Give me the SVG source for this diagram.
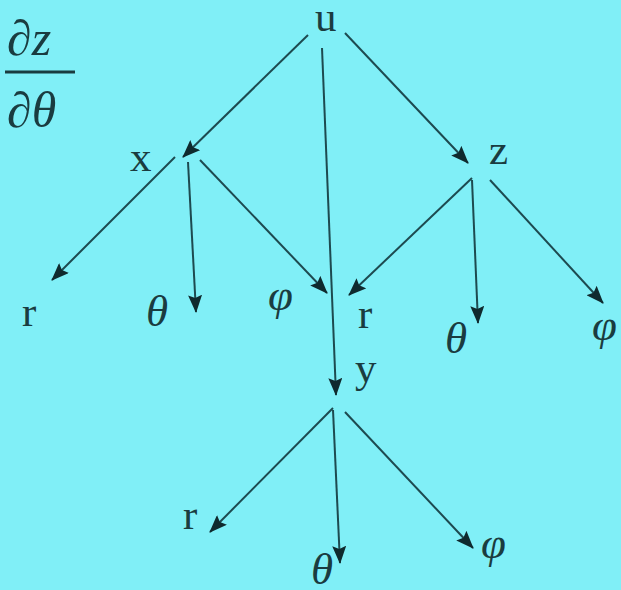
<svg xmlns="http://www.w3.org/2000/svg" width="621" height="590" viewBox="0 0 621 590">
<style>
.t{font-family:"Liberation Serif","Times New Roman",serif;font-size:43px;fill:#1a3c40}
.i{font-style:italic;font-size:45px}
.c line{stroke:#1d4a50;stroke-width:2;marker-end:url(#a)}
</style>
<defs>
<marker id="a" markerUnits="userSpaceOnUse" markerWidth="18" markerHeight="14" viewBox="0 0 18 14" refX="17" refY="7" orient="auto">
<path d="M0,0 L18,7 L0,14 L3,7 Z" fill="#0f2a2e"/>
</marker>
</defs>
<rect width="621" height="590" fill="#80eff7"/>
<g id="deriv">
<text class="t i" x="7" y="55" style="font-size:50px">∂z</text>
<line x1="5" y1="72" x2="75" y2="72" stroke="#1a3c40" stroke-width="3"/>
<text class="t i" x="7" y="127" style="font-size:50px">∂θ</text>
</g>
<g class="c" id="connectors">
<line x1="308" y1="35" x2="183" y2="157"/>
<line x1="345" y1="33" x2="468" y2="163"/>
<line x1="322" y1="48" x2="336" y2="395"/>
<line x1="175" y1="157" x2="52" y2="280"/>
<line x1="188" y1="162" x2="196" y2="312"/>
<line x1="200" y1="160" x2="327" y2="293"/>
<line x1="472" y1="178" x2="349" y2="295"/>
<line x1="472" y1="180" x2="478" y2="323"/>
<line x1="490" y1="180" x2="603" y2="303"/>
<line x1="333" y1="408" x2="210" y2="532"/>
<line x1="333" y1="410" x2="340" y2="563"/>
<line x1="345" y1="412" x2="473" y2="548"/>
</g>
<g id="u"><text class="t" x="315" y="31">u</text></g>
<g id="x"><text class="t" x="130" y="171">x</text></g>
<g id="z"><text class="t" x="489" y="164">z</text></g>
<g id="y"><text class="t" x="355" y="382">y</text></g>
<g id="x_r"><text class="t" x="22" y="326">r</text></g>
<g id="x_theta"><text class="t i" x="146" y="326">θ</text></g>
<g id="x_phi"><text class="t i" x="268" y="310">φ</text></g>
<g id="z_r"><text class="t" x="358" y="328">r</text></g>
<g id="z_theta"><text class="t i" x="445" y="353">θ</text></g>
<g id="z_phi"><text class="t i" x="592" y="340">φ</text></g>
<g id="y_r"><text class="t" x="183" y="529">r</text></g>
<g id="y_theta"><text class="t i" x="311" y="584">θ</text></g>
<g id="y_phi"><text class="t i" x="481" y="558">φ</text></g>
</svg>
